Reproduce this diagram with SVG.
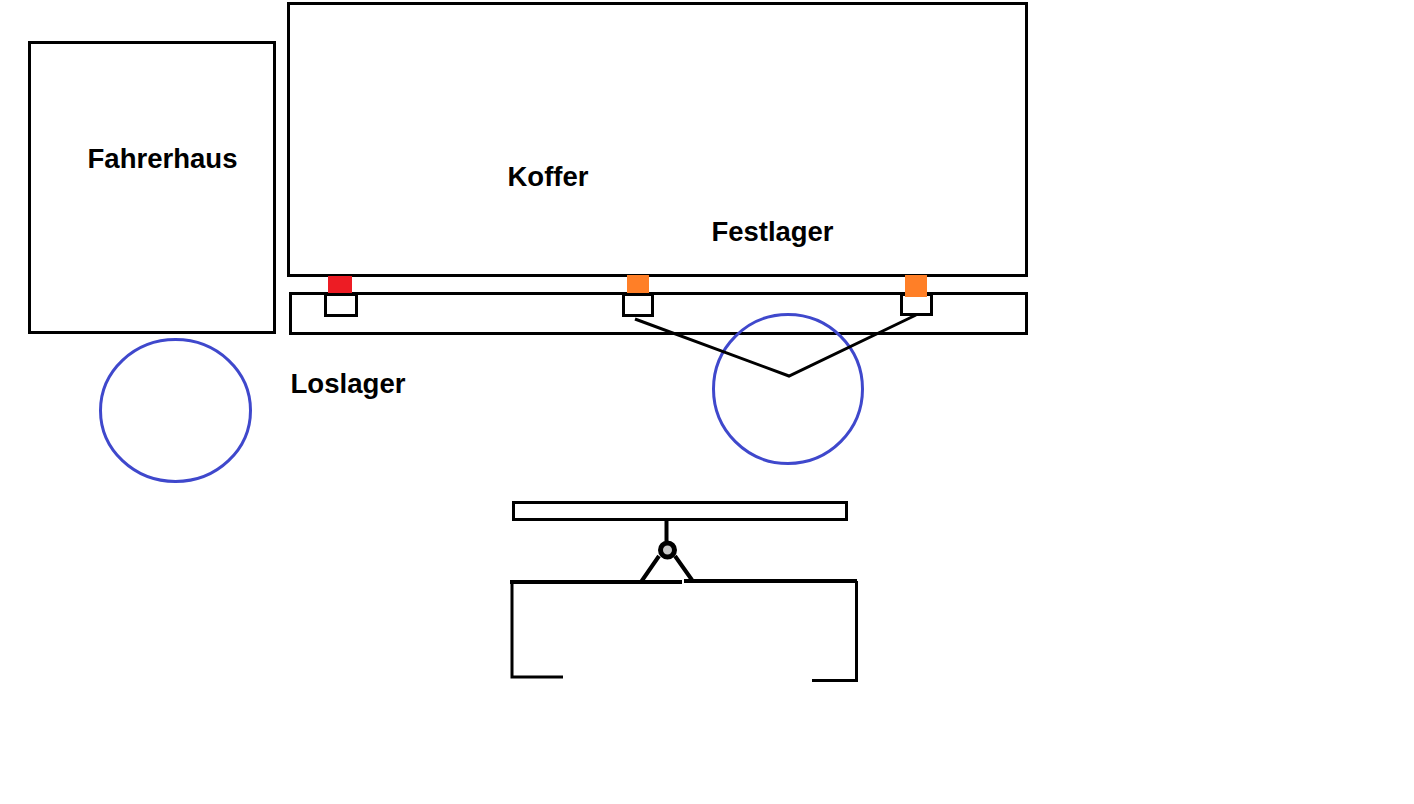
<svg xmlns="http://www.w3.org/2000/svg" width="1414" height="804" viewBox="0 0 1414 804">
<style>
.box{fill:none;stroke:#000;stroke-width:3;shape-rendering:crispEdges}
.ln{fill:none;stroke:#000;stroke-width:3}
.wheel{fill:none;stroke:#3f48cc;stroke-width:3}
.lbl{font-family:"Liberation Sans",Arial,sans-serif;font-weight:700;font-size:27px;fill:#000}
</style>
<rect width="1414" height="804" fill="#fff"/>
<g id="fahrerhaus"><rect class="box" x="29.500" y="42.500" width="245" height="290"/><text class="lbl" x="87.500" y="168" textLength="150" lengthAdjust="spacingAndGlyphs">Fahrerhaus</text></g>
<g id="koffer"><rect class="box" x="288.500" y="3.500" width="738" height="272"/><text class="lbl" x="507.500" y="186" textLength="81" lengthAdjust="spacingAndGlyphs">Koffer</text></g>
<g id="festlager-label"><text class="lbl" x="711.500" y="241" textLength="122" lengthAdjust="spacingAndGlyphs">Festlager</text></g>
<g id="rahmen"><rect class="box" x="290.500" y="293.500" width="736" height="40"/></g>
<g id="loslager"><rect x="328" y="276" width="24" height="19" fill="#ed1c24"/><rect class="box" x="325.500" y="294.500" width="31" height="21"/><text class="lbl" x="290.500" y="393" textLength="115" lengthAdjust="spacingAndGlyphs">Loslager</text></g>
<g id="festlager-1"><rect x="627" y="275" width="22" height="18" fill="#ff7f27"/><rect class="box" x="623.500" y="294.500" width="29" height="21"/></g>
<g id="festlager-2"><rect class="box" x="901.500" y="294.500" width="30" height="20"/><rect x="905" y="275" width="22" height="22" fill="#ff7f27"/></g>
<g id="rad-vorne"><ellipse class="wheel" cx="175.500" cy="410.500" rx="75" ry="71"/></g>
<g id="rad-hinten"><circle class="wheel" cx="788" cy="389" r="74.500"/></g>
<g id="connectors">
<path class="ln" d="M635 319L789 376L916 315"/>
</g>
<g id="lagerdetail">
<rect class="box" x="513.500" y="502.500" width="333" height="17"/>
<path class="ln" d="M666.500 520V541" style="stroke-width:4"/>
<circle cx="667.500" cy="550" r="7" fill="#c8c8c8" stroke="#000" stroke-width="5"/>
<path class="ln" d="M659 556L641 582M675 556L692 580" style="stroke-width:4"/>
</g>
<g id="traeger">
<path class="ln" d="M510 582H682M684 581H857" style="stroke-width:4"/>
<path class="ln" d="M563 677H512V582"/>
<path class="ln" d="M812 680.500H856.500V581"/>
</g>
</svg>
